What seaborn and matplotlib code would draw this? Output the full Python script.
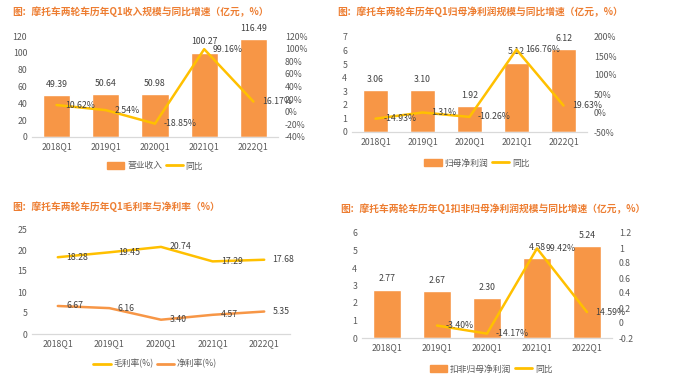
import matplotlib
matplotlib.use("Agg")

import numpy as np
import matplotlib.pyplot as plt
import matplotlib.patches as mpatches
from matplotlib.lines import Line2D
from matplotlib.ticker import FuncFormatter, MultipleLocator
import seaborn as sns

sns.set_theme(style="white")
plt.rcParams['font.family'] = ['Noto Sans CJK SC', 'DejaVu Sans']

quarters = ['2018Q1', '2019Q1', '2020Q1', '2021Q1', '2022Q1']

revenue = [49.39, 50.64, 50.98, 100.27, 116.49]
revenue_yoy = [10.62, 2.54, -18.85, 99.16, 16.17]

net_profit = [3.06, 3.10, 1.92, 5.12, 6.12]
net_profit_yoy = [-14.93, 1.31, -10.26, 166.76, 19.63]

gross_margin = [18.28, 19.45, 20.74, 17.29, 17.68]
net_margin = [6.67, 6.16, 3.40, 4.57, 5.35]

deducted_profit = [2.77, 2.67, 2.30, 4.58, 5.24]
deducted_yoy = [np.nan, -0.0340, -0.1417, 0.9942, 0.1459]

BAR = '#F79646'
GOLD = '#FFC000'
TITLE = '#ED7D31'
TICK = '#595959'
LABEL = '#404040'
FS = 6.3

fig = plt.figure(figsize=(7, 3.83), dpi=100)


def style_axis(ax, right=False):
    for s in ['top', 'left', 'right']:
        ax.spines[s].set_visible(False)
    ax.spines['bottom'].set_color('#D9D9D9')
    ax.spines['bottom'].set_linewidth(0.9)
    ax.tick_params(axis='both', length=0, labelsize=FS, colors=TICK)
    ax.tick_params(axis='y', pad=5 if right else 3.5)
    ax.tick_params(axis='x', pad=4)
    ax.set_xlabel('')
    ax.set_ylabel('')
    ax.grid(False)


def bar_panel(rect, values, yoy, ymax, ystep, rlim, rstep, rfmt, bar_name, title, title_xy, legend_xy):
    ax = fig.add_axes(rect)
    sns.barplot(x=quarters, y=values, color=BAR, width=0.55, saturation=1, ax=ax)
    ax.set_xlim(-0.5, len(quarters) - 0.5)
    ax.set_ylim(0, ymax)
    ax.yaxis.set_major_locator(MultipleLocator(ystep))
    style_axis(ax)
    for i, v in enumerate(values):
        ax.annotate(f'{v:.2f}', (i, v), xytext=(0, 4.5), textcoords='offset points',
                    ha='center', va='bottom', fontsize=FS, color=LABEL)

    ax2 = ax.twinx()
    pos = np.arange(len(quarters))
    sns.lineplot(x=pos, y=yoy, color=GOLD, linewidth=1.8, ax=ax2)
    ax2.set_ylim(*rlim)
    ax2.yaxis.set_major_locator(MultipleLocator(rstep))
    ax2.yaxis.set_major_formatter(FuncFormatter(rfmt))
    style_axis(ax2, right=True)
    ax2.spines['bottom'].set_visible(False)
    for i, v in enumerate(yoy):
        if np.isnan(v):
            continue
        txt = f'{v:.2f}%' if rlim[1] > 10 else f'{v * 100:.2f}%'
        ax2.annotate(txt, (i, v), xytext=(6, 0), textcoords='offset points',
                     ha='left', va='center', fontsize=FS, color=LABEL)

    fig.text(title_xy[0], title_xy[1], title, fontsize=7, fontweight='bold', color=TITLE,
             ha='left', va='center')
    handles = [mpatches.Patch(color=BAR, label=bar_name),
               Line2D([0], [0], color=GOLD, lw=2, label='同比')]
    fig.legend(handles=handles, loc='center', bbox_to_anchor=legend_xy, ncol=2, frameon=False,
               fontsize=FS, handlelength=2.0, handleheight=0.9, columnspacing=0.4,
               handletextpad=0.3, labelcolor=TICK)
    return ax


pct = lambda v, p: f'{v:.0f}%'
gen = lambda v, p: f'{round(v, 1):g}'

# panel 1: revenue
bar_panel([32 / 700, 1 - 137 / 383, 246 / 700, 101 / 383], revenue, revenue_yoy,
          120, 20, (-40, 120), 20, pct, '营业收入',
          '图：摩托车两轮车历年Q1收入规模与同比增速（亿元，%）', (12 / 700, 1 - 12 / 383),
          (155 / 700, 1 - 166 / 383))

# panel 2: net profit attributable
bar_panel([352 / 700, 1 - 132 / 383, 235 / 700, 95 / 383], net_profit, net_profit_yoy,
          7, 1, (-50, 200), 50, pct, '归母净利润',
          '图：摩托车两轮车历年Q1归母净利润规模与同比增速（亿元，%）', (337 / 700, 1 - 12 / 383),
          (477 / 700, 1 - 163 / 383))

# panel 4: deducted net profit
bar_panel([362 / 700, 1 - 338 / 383, 250 / 700, 105 / 383], deducted_profit, deducted_yoy,
          6, 1, (-0.2, 1.2), 0.2, gen, '扣非归母净利润',
          '图：摩托车两轮车历年Q1扣非归母净利润规模与同比增速（亿元，%）', (340 / 700, 1 - 209 / 383),
          (491 / 700, 1 - 369 / 383))

# panel 3: margins
ax3 = fig.add_axes([32 / 700, 1 - 334 / 383, 258 / 700, 105 / 383])
pos = np.arange(len(quarters))
sns.lineplot(x=pos, y=gross_margin, color=GOLD, linewidth=1.8, ax=ax3)
sns.lineplot(x=pos, y=net_margin, color=BAR, linewidth=1.8, ax=ax3)
ax3.set_xlim(-0.5, len(quarters) - 0.5)
ax3.set_ylim(0, 25)
ax3.yaxis.set_major_locator(MultipleLocator(5))
ax3.set_xticks(pos)
ax3.set_xticklabels(quarters)
style_axis(ax3)
for series in (gross_margin, net_margin):
    for i, v in enumerate(series):
        ax3.annotate(f'{v:.2f}', (i, v), xytext=(6, 0), textcoords='offset points',
                     ha='left', va='center', fontsize=FS, color=LABEL)
fig.text(12 / 700, 1 - 207 / 383, '图：摩托车两轮车历年Q1毛利率与净利率（%）', fontsize=7,
         fontweight='bold', color=TITLE, ha='left', va='center')
handles = [Line2D([0], [0], color=GOLD, lw=2, label='毛利率(%)'),
           Line2D([0], [0], color=BAR, lw=2, label='净利率(%)')]
fig.legend(handles=handles, loc='center', bbox_to_anchor=(155 / 700, 1 - 364 / 383), ncol=2,
           frameon=False, fontsize=FS, handlelength=2.0, columnspacing=0.4,
           handletextpad=0.3, labelcolor=TICK)

fig.savefig('out.png', dpi=100)
